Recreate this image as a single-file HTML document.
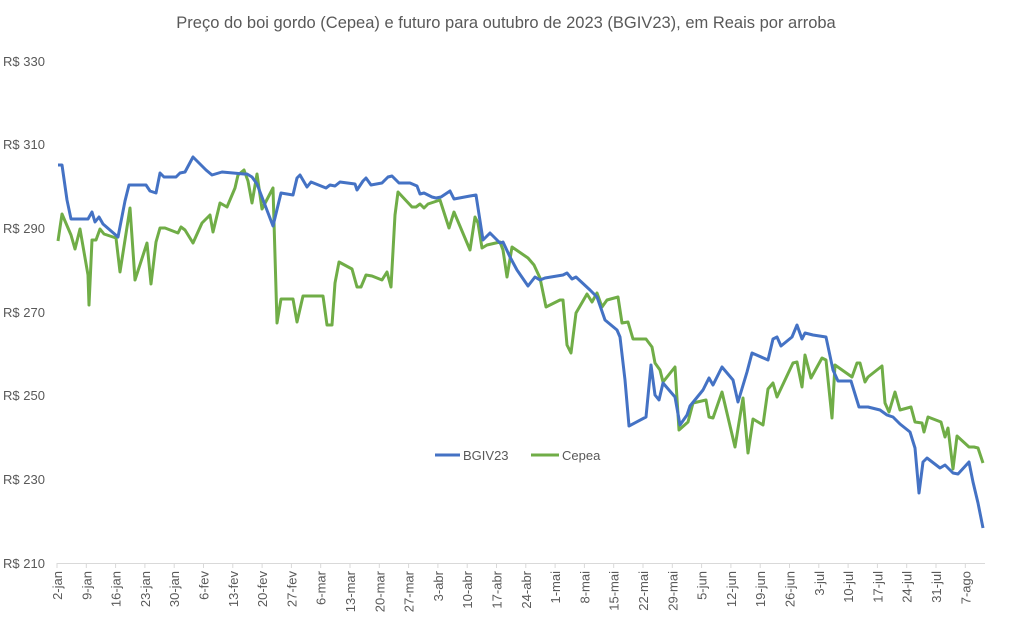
<!DOCTYPE html>
<html><head><meta charset="utf-8"><style>
html,body{margin:0;padding:0;background:#fff;width:1012px;height:630px;overflow:hidden}
svg{display:block;font-family:"Liberation Sans",sans-serif}
</style></head><body>
<svg width="1012" height="630" viewBox="0 0 1012 630">
<text x="506" y="28" text-anchor="middle" font-size="16.5" fill="#595959">Preço do boi gordo (Cepea) e futuro para outubro de 2023 (BGIV23), em Reais por arroba</text>
<g font-size="13" fill="#595959">
<text x="3" y="66">R$ 330</text>
<text x="3" y="149">R$ 310</text>
<text x="3" y="233">R$ 290</text>
<text x="3" y="317">R$ 270</text>
<text x="3" y="400">R$ 250</text>
<text x="3" y="484">R$ 230</text>
<text x="3" y="568">R$ 210</text>
</g>
<line x1="57" y1="563.5" x2="985" y2="563.5" stroke="#d9d9d9" stroke-width="1"/>
<g id="ticks" stroke="#d9d9d9" stroke-width="1"></g>
<g id="xl" font-size="13" fill="#595959"></g>
<polyline fill="none" stroke="#70ad47" stroke-width="3" stroke-linejoin="round" points="58,241 62,214 71,235 75,249 80,229 88,275 89,305 92,240 96,240 100,229 104,234 116,238 120,272 130,208 135,280 147,243 151,284 156,242 160,228 165,228 178,233 181,227 185,230 193,243 202,223 210,215 213,232 220,203 227,207 235,188 238,175 244,170 248,181 252,203 257,174 262,209 273,188 277,323 281,299 293,299 297,322 303,296 323,296 327,325 332,325 335,283 339,262 352,269 357,287 361,287 366,275 372,276 382,280 387,272 391,287 395,215 398,192 412,207 416,207 420,204 424,208 428,204 440,200 449,228 454,212 470,250 475,217 478,223 482,248 487,245 500,242 503,250 507,277 512,247 528,258 534,265 540,278 546,307 560,300 563,300 567,345 571,353 576,313 587,294 592,302 597,293 602,307 607,300 618,297 622,323 628,322 633,339 646,339 652,347 655,363 660,370 663,382 675,367 679,430 688,422 693,403 706,400 709,417 713,418 722,392 735,447 743,398 748,453 753,419 763,425 768,389 773,383 777,397 793,363 797,362 802,387 805,355 811,378 822,358 826,360 832,418 835,365 852,377 857,363 860,363 865,382 868,377 882,366 885,403 889,412 895,392 900,410 911,407 915,422 922,423 924,432 928,417 941,422 945,437 948,428 953,469 957,436 969,447 974,447 978,448 983,463"/>
<polyline fill="none" stroke="#4472c4" stroke-width="3" stroke-linejoin="round" points="58,165 62,165 67,200 71,219 88,219 92,212 95,222 99,217 103,224 118,237 125,201 129,185 146,185 150,191 156,193 160,173 164,177 176,177 180,173 185,172 193,157 206,170 212,175 222,172 244,174 247,174 252,177 257,184 273,226 281,193 293,195 297,178 300,175 307,187 311,182 326,188 330,185 335,186 340,182 355,184 357,190 363,181 366,178 371,185 382,183 388,177 392,176 399,183 410,183 417,186 420,194 424,193 432,197 436,198 441,197 447,193 450,191 454,199 470,196 476,195 483,240 490,233 500,243 503,242 510,257 517,270 528,286 535,277 540,280 545,278 563,275 567,273 572,279 576,277 590,290 597,297 605,320 617,330 620,337 625,380 629,426 646,417 651,365 655,395 659,400 663,383 675,397 680,425 687,415 690,406 703,390 709,378 713,385 722,367 733,380 738,402 747,372 752,353 768,360 773,339 777,337 781,346 792,337 797,325 802,339 805,333 813,335 826,337 833,370 838,381 851,381 859,407 868,407 880,410 887,415 893,417 900,424 910,432 915,448 919,493 923,462 927,458 940,468 945,465 953,473 958,474 969,462 973,482 978,503 983,528"/>
<line x1="435" y1="455" x2="460" y2="455" stroke="#4472c4" stroke-width="3"/>
<text x="463" y="460" font-size="13" fill="#595959">BGIV23</text>
<line x1="531" y1="455" x2="559" y2="455" stroke="#70ad47" stroke-width="3"/>
<text x="562" y="460" font-size="13" fill="#595959">Cepea</text>
</svg>
<script>
var labs=["2-jan","9-jan","16-jan","23-jan","30-jan","6-fev","13-fev","20-fev","27-fev","6-mar","13-mar","20-mar","27-mar","3-abr","10-abr","17-abr","24-abr","1-mai","8-mai","15-mai","22-mai","29-mai","5-jun","12-jun","19-jun","26-jun","3-jul","10-jul","17-jul","24-jul","31-jul","7-ago"];
var ns="http://www.w3.org/2000/svg",t=document.getElementById("ticks"),g=document.getElementById("xl");
labs.forEach(function(l,i){var x=57+i*29.3;
var ln=document.createElementNS(ns,"line");ln.setAttribute("x1",x);ln.setAttribute("x2",x);ln.setAttribute("y1",563);ln.setAttribute("y2",568);t.appendChild(ln);
var tx=document.createElementNS(ns,"text");tx.setAttribute("transform","translate("+(x+5)+",571) rotate(-90)");tx.setAttribute("text-anchor","end");tx.textContent=l;g.appendChild(tx);});
</script>
</body></html>
